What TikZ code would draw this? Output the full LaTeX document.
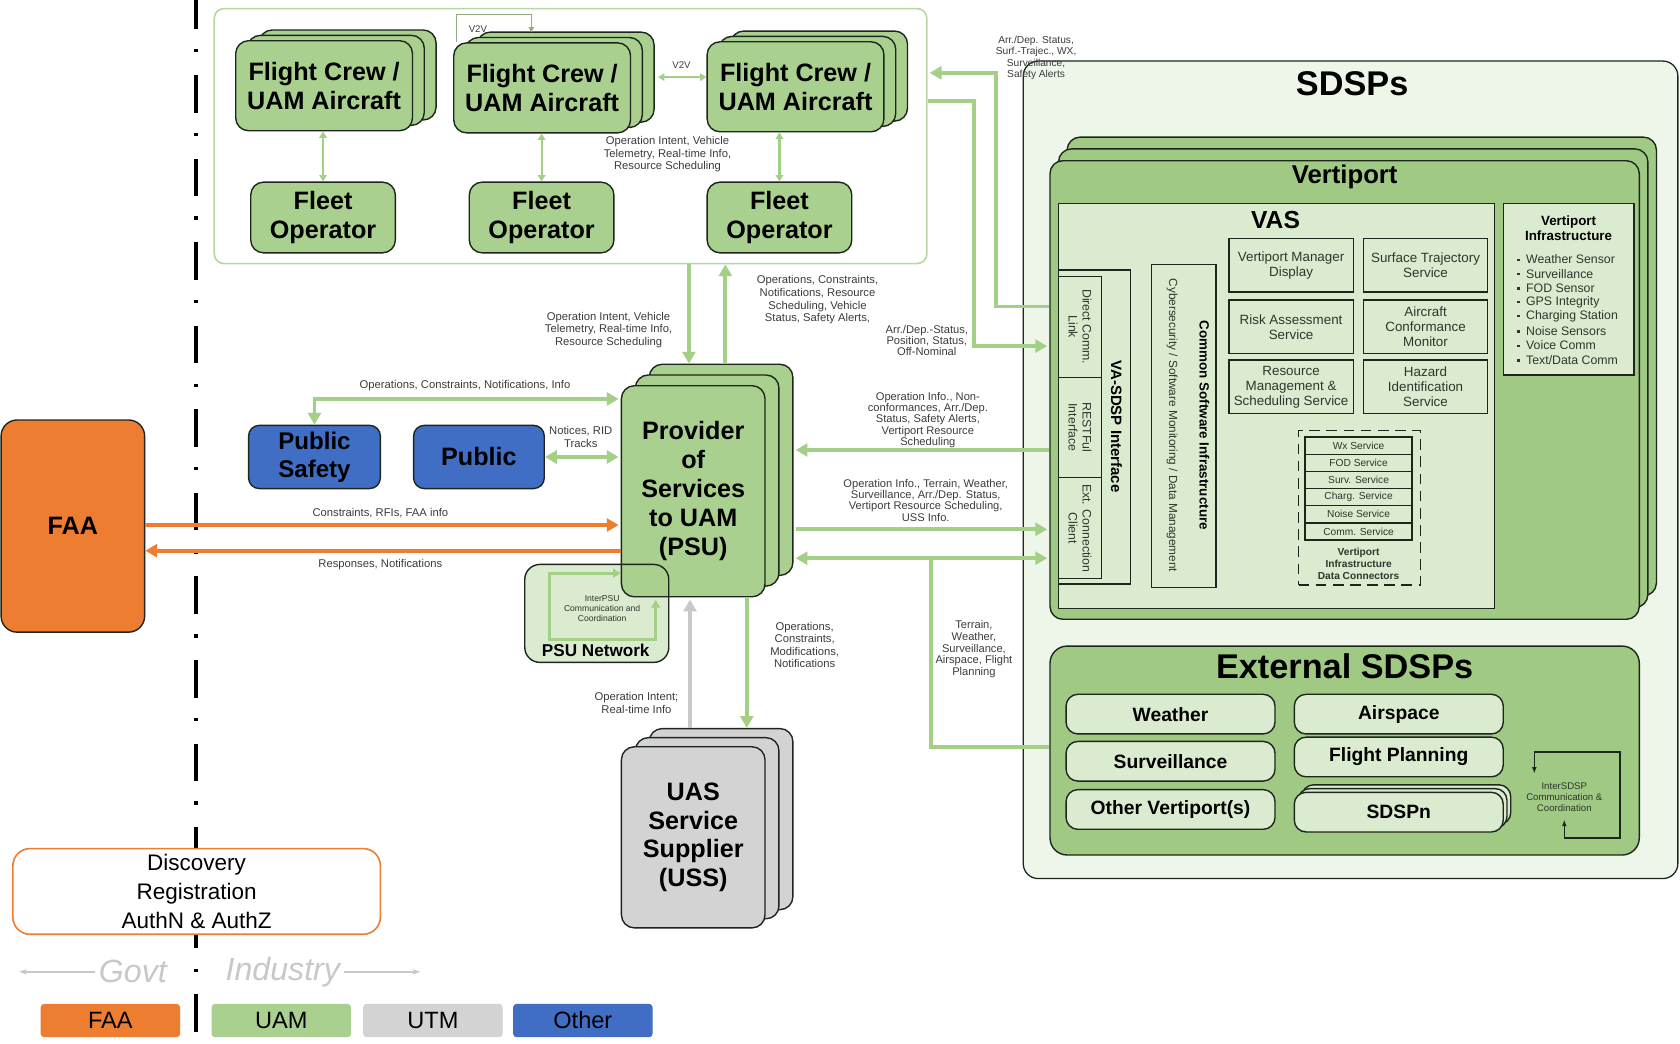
\documentclass[tikz,border=0pt]{standalone}
\usepackage{fontspec}
\setmainfont{Liberation Sans}
\usetikzlibrary{arrows.meta,calc,positioning,shadows}
\definecolor{uamcol}{RGB}{169,208,142}
\definecolor{vpcol}{RGB}{160,201,132}
\definecolor{vascol}{RGB}{219,235,207}
\definecolor{sdspcol}{RGB}{238,245,233}
\definecolor{grpcol}{RGB}{183,215,163}
\definecolor{flowcol}{RGB}{163,207,134}
\definecolor{faacol}{RGB}{237,125,49}
\definecolor{othcol}{RGB}{63,110,196}
\definecolor{utmcol}{RGB}{211,211,211}
\definecolor{graycol}{RGB}{200,200,200}
\definecolor{edgecol}{RGB}{28,38,28}
\definecolor{lblcol}{RGB}{60,60,60}
\definecolor{svctext}{RGB}{45,55,45}
\definecolor{govcol}{RGB}{200,200,200}

\tikzset{
  box/.style={draw=edgecol,line width=1.3pt,rounded corners=12pt,align=center,inner sep=0pt,
    font=\bfseries\fontsize{23.5}{27}\selectfont},
  panel/.style={draw=edgecol,line width=1.1pt,fill=vascol,inner sep=0pt,align=center},
  svc/.style={panel,minimum width=116,minimum height=50,text=svctext,font=\fontsize{12.5}{14}\selectfont},
  btn/.style={draw=edgecol,line width=1.3pt,rounded corners=11pt,fill=vascol,inner sep=0pt,
    minimum width=195,minimum height=37,font=\bfseries\fontsize{18}{21}\selectfont},
  lbl/.style={text=lblcol,align=center,inner sep=0pt,font=\fontsize{10.5}{11.8}\selectfont},
  tight/.style={font=\fontsize{10.4}{10.4}\selectfont},
  flow/.style={draw=flowcol,line width=3.5pt,-{Triangle[length=11pt,width=12pt]}},
  bothflow/.style={flow,{Triangle[length=11pt,width=12pt]}-{Triangle[length=11pt,width=12pt]}},
  thinflow/.style={draw=flowcol,line width=2pt,{Triangle[length=6pt,width=7pt]}-{Triangle[length=6pt,width=7pt]}},
  faaflow/.style={draw=faacol,line width=3.5pt,-{Triangle[length=11pt,width=12pt]}},
  rotlbl/.style={rotate=-90,align=center,inner sep=0pt,text=svctext},
}

\begin{document}
\begin{tikzpicture}[x=1pt,y=-1pt]
\useasboundingbox (0,0) rectangle (1568,974);
\fill[white] (0,0) rectangle (1568,974);
% govt / industry divider
\draw[line width=3pt,dash pattern=on 35pt off 19pt on 3pt off 21pt,dash phase=8pt] (183,0) -- (183,974);

% UAM operators group
\node[draw=grpcol,line width=1.5pt,rounded corners=9pt,fill=white,minimum width=665,minimum height=238] (uamgrp) at (532.5,127) {};
\foreach \n/\x/\y in {1/302.5/80,2/506/82,3/742.5/81}
  \node[box,fill=uamcol,minimum width=165,minimum height=84,
    double copy shadow={shadow xshift=11pt,shadow yshift=5pt}] (crew\n) at (\x,\y) {Flight Crew /\\UAM Aircraft};
\foreach \n/\x in {1/301.5,2/505.5,3/727.5}
  \node[box,fill=uamcol,minimum width=135,minimum height=66] (fleet\n) at (\x,203) {Fleet\\Operator};
\foreach \n in {1,2,3}
  \draw[thinflow] (fleet\n.north) -- (fleet\n.north |- crew\n.south);
\draw[draw=grpcol!80!black,line width=1pt,-{Triangle[length=5pt,width=5pt]}] ($(crew2.north west)+(3,0)$) -- ++(0,-26) -- ++(70,0) -- ++(0,17);
\node[lbl,font=\fontsize{9}{10}\selectfont] (v2vtop) at (446,27) {V2V};
\coordinate (v2vL) at ($(crew2.east)+(25,-10)$);
\draw[thinflow] (v2vL) -- (v2vL -| crew3.west);
\node[lbl,font=\fontsize{9}{10}\selectfont] (v2vmid) at (636,61) {V2V};
\node[lbl] (oplbl1) at (623,144) {Operation Intent, Vehicle\\Telemetry, Real-time Info,\\Resource Scheduling};

% SDSPs
\node[draw=edgecol,line width=1.2pt,rounded corners=14pt,fill=sdspcol,minimum width=611,minimum height=763] (sdsp) at (1260.5,438.5) {};
\node[font=\bfseries\fontsize{32}{36}\selectfont] (sdsptitle) at (1262,78) {SDSPs};
\node[box,fill=vpcol,minimum width=550,minimum height=428,
  double copy shadow={shadow xshift=8pt,shadow yshift=11pt}] (vp) at (1255,364) {};
\node[font=\bfseries\fontsize{24}{28}\selectfont] (vptitle) at (1255,165) {Vertiport};
\node[panel,minimum width=407,minimum height=378] (vas) at (1191.5,379) {};
\node[font=\bfseries\fontsize{23}{27}\selectfont] (vastitle) at (1190.5,205) {VAS};

% vertiport infrastructure
\node[panel,minimum width=122,minimum height=160] (vpi) at (1464,270) {};
\node[font=\bfseries\fontsize{12.5}{14}\selectfont,align=center] (vpititle) at (1464,213) {Vertiport\\Infrastructure};
\foreach \itm [count=\i from 0] in {Weather Sensor,Surveillance,FOD Sensor,GPS Integrity,Charging Station,Noise Sensors,Voice Comm,Text/Data Comm}
  \node[anchor=west,inner sep=0pt,text=svctext,font=\fontsize{11.5}{13}\selectfont] (vpiitem\i) at (1416,{242+13.4*\i}) {\rule[2.5pt]{2.2pt}{2.2pt}\hspace{6pt}\itm};

% VA-SDSP interface
\node[panel,minimum width=67,minimum height=293] (vasdsp) at (1021.5,398.5) {};
\node[panel,minimum width=40,minimum height=94] (dcl) at (1008,305) {};
\node[panel,minimum width=40,minimum height=94] (rest) at (1008,399) {};
\node[panel,minimum width=40,minimum height=94] (ext) at (1008,493) {};
\node[rotlbl,font=\fontsize{11.5}{13}\selectfont] (dcltxt) at (dcl) {Direct Comm.\\Link};
\node[rotlbl,font=\fontsize{11.5}{13}\selectfont] (resttxt) at (rest) {RESTFul\\Interface};
\node[rotlbl,font=\fontsize{11.5}{13}\selectfont] (exttxt) at (ext) {Ext. Connection\\Client};
\node[rotlbl,text=black,font=\bfseries\fontsize{14}{16}\selectfont] (vasdsptxt) at (1042,398) {VA-SDSP Interface};

% common software infrastructure
\node[panel,minimum width=60,minimum height=301] (csi) at (1105,397.5) {};
\node[rotlbl,text=black,font=\bfseries\fontsize{12.5}{14}\selectfont] (csitxt) at (1124,397) {Common Software Infrastructure};
\node[rotlbl,font=\fontsize{11}{13}\selectfont] (cybtxt) at (1094,397) {Cybersecurity / Software Monitoring / Data Management};

% VAS services
\node[svc] (vmd) at (1205,247.5) {Vertiport Manager\\Display};
\node[svc] (sts) at (1330.5,247.5) {Surface Trajectory\\Service};
\node[svc] (ras) at (1205,305) {Risk Assessment\\Service};
\node[svc] (acm) at (1330.5,305) {Aircraft\\Conformance\\Monitor};
\node[svc] (rms) at (1205,361) {Resource\\Management \&\\Scheduling Service};
\node[svc] (hid) at (1330.5,361) {Hazard\\Identification\\Service};

% data connectors
\node[draw=edgecol,line width=1.4pt,dash pattern=on 10pt off 6pt,minimum width=114,minimum height=144] (dconn) at (1269,474) {};
\foreach \s [count=\i from 0] in {Wx Service,FOD Service,Surv. Service,Charg. Service,Noise Service,Comm. Service}
  \node[panel,line width=1.4pt,minimum width=100,minimum height=16,text=svctext,font=\fontsize{9.5}{11}\selectfont] (conn\i) at (1268,{416+16*\i}) {\s};
\node[font=\bfseries\fontsize{9.5}{11}\selectfont,align=center,text=svctext] (dconntxt) at (1268,526) {Vertiport\\Infrastructure\\Data Connectors};

% external SDSPs
\node[box,fill=vpcol,rounded corners=16pt,minimum width=550,minimum height=195] (extsd) at (1255,700.5) {};
\node[font=\bfseries\fontsize{32}{36}\selectfont] (extsdtitle) at (1255,622) {External SDSPs};
\node[btn] (wx) at (1092.5,666.5) {Weather};
\node[btn] (air) at (1305.5,666.5) {Airspace};
\node[btn] (surv) at (1092.5,710.5) {Surveillance};
\node[btn] (fp) at (1305.5,706.5) {Flight Planning};
\node[btn] (othvp) at (1092.5,755.5) {Other Vertiport(s)};
\node[btn,double copy shadow={shadow xshift=3.5pt,shadow yshift=3.5pt}] (sdspn) at (1305.5,758) {SDSPn};
\coordinate (isd) at (1432,702);
\draw[edgecol,line width=1.3pt,{Latex[length=6pt]}-{Latex[length=6pt]}] ($(isd)+(0,20)$) -- (isd) -- ++(80,0) -- ++(0,80) -- ++(-52,0) -- ++(0,-17);
\node[align=center,text=svctext,font=\fontsize{9}{10.5}\selectfont] (isdtxt) at (1460,744) {InterSDSP\\Communication \&\\Coordination};

% FAA and public
\node[box,fill=faacol,rounded corners=15pt,minimum width=134,minimum height=198] (faa) at (68,491) {FAA};
\node[box,fill=othcol,rounded corners=10pt,minimum width=123,minimum height=59,font=\bfseries\fontsize{22.5}{26}\selectfont] (pubs) at (293.5,426.5) {Public\\Safety};
\node[box,fill=othcol,rounded corners=10pt,minimum width=122,minimum height=59] (pub) at (447,426.5) {Public};

% PSU and PSU network
\node[fill=vascol,rounded corners=14pt,minimum width=134,minimum height=91] (psunet) at (557,572.5) {};
\node[box,fill=uamcol,minimum width=134,minimum height=197,
  double copy shadow={shadow xshift=13pt,shadow yshift=10pt}] (psu) at (647,458.5) {Provider\\of\\Services\\to UAM\\(PSU)};
\draw[edgecol,line width=1.3pt,rounded corners=14pt] (psunet.south west) rectangle (psunet.north east);
\node[font=\bfseries\fontsize{16}{18}\selectfont] (psunettxt) at (556,607) {PSU Network};
\coordinate (pnA) at (513,535);
\draw[draw=flowcol,line width=2.5pt,{Triangle[length=7pt,width=8pt]}-{Triangle[length=7pt,width=8pt]}] (pnA -| psu.west) -- (pnA) |- ($(pnA)+(99,62)$) -- ++(0,-37);
\node[lbl,text=svctext,font=\fontsize{8}{9.5}\selectfont] (psunetlbl) at (562,568) {InterPSU\\Communication and\\Coordination};

% USS
\node[box,fill=utmcol,minimum width=134,minimum height=169,
  double copy shadow={shadow xshift=13pt,shadow yshift=8.5pt}] (uss) at (647,781.5) {UAS\\Service\\Supplier\\(USS)};

% operators <-> PSU
\coordinate (psuin) at ($(psu.north)+(-4,-20)$);
\draw[flow] (uamgrp.south -| psuin) -- (psuin);
\coordinate (psuout) at ($(psu.north)+(30,-20)$);
\draw[flow] (psuout) -- (psuout |- uamgrp.south);
\node[lbl] (oplbl2) at (568,308) {Operation Intent, Vehicle\\Telemetry, Real-time Info,\\Resource Scheduling};
\node[lbl] (opslbl) at (763,280) {Operations, Constraints,\\Notifications, Resource\\Scheduling, Vehicle\\Status, Safety Alerts,};

% public <-> PSU
\coordinate (psuA) at ($(psu.north west)+(-2,13)$);
\draw[bothflow] (pubs.north) |- (psuA);
\node[lbl] (pslbl) at (434,360) {Operations, Constraints, Notifications, Info};
\draw[bothflow] (pub.east) -- ($(pub.east -| psu.west)+(-2,0)$);
\node[lbl] (publbl) at (542,408) {Notices, RID\\Tracks};

% FAA <-> PSU
\draw[faaflow] ($(faa.east)+(0,-1)$) -- ($(faa.east -| psu.west)+(-2,-1)$);
\draw[faaflow] ($(faa.east -| psu.west)+(0,23)$) -- ($(faa.east)+(0,23)$);
\node[lbl] (faalbl1) at (355,479) {Constraints, RFIs, FAA info};
\node[lbl] (faalbl2) at (355,527) {Responses, Notifications};

% PSU <-> USS
\coordinate (ussin) at ($(uss.north)+(50,-17)$);
\draw[flow] (ussin |- psu.south) -- (ussin);
\coordinate (ussout) at ($(uss.north)+(-3,-17)$);
\draw[flow,draw=graycol] (ussout) -- ($(ussout |- psu.south)+(0,2)$);
\node[lbl] (usslbl1) at (751,602) {Operations,\\Constraints,\\Modifications,\\Notifications};
\node[lbl] (usslbl2) at (594,656) {Operation Intent;\\Real-time Info};

% vertiport <-> operators
\coordinate (dclout) at ($(vp.west |- dcl.west)+(0,-19)$);
\draw[flow] (dclout) -- ++(-50,0) |- ($(uamgrp.east)+(2,-59)$);
\draw[flow] ($(uamgrp.east)+(0,-33)$) -- ++(43,0) |- ($(vp.west)+(-2,-41)$);
\node[lbl,font=\fontsize{9.5}{10.5}\selectfont] (arrlbl1) at (967,54) {Arr./Dep. Status,\\Surf.-Trajec., WX,\\Surveillance,\\Safety Alerts};
\node[lbl,tight] (arrlbl2) at (865,318) {Arr./Dep.-Status,\\Position, Status,\\Off-Nominal};

% vertiport <-> PSU
\coordinate (restin) at ($(vp.west |- rest.west)+(0,21)$);
\draw[flow] (restin) -- ($(restin -| psu.east)+(28,0)$);
\node[lbl,tight] (restlbl) at (866,392) {Operation Info., Non-\\conformances, Arr./Dep.\\Status, Safety Alerts,\\Vertiport Resource\\Scheduling};
\coordinate (extin) at ($(vp.west |- ext.west)+(-2,1)$);
\draw[flow] ($(extin -| psu.east)+(28,0)$) -- (extin);
\node[lbl,tight] (extlbl) at (864,467) {Operation Info., Terrain, Weather,\\Surveillance, Arr./Dep. Status,\\Vertiport Resource Scheduling,\\USS Info.};
\coordinate (extin2) at ($(extin)+(0,27)$);
\draw[bothflow] ($(extin2 -| psu.east)+(28,0)$) -- (extin2);
\draw[draw=flowcol,line width=3.5pt] ($(extin2 -| psu.east)+(154,0)$) |- ($(extsd.west)+(0,-3)$);
\node[lbl,font=\fontsize{10.4}{11}\selectfont] (trnlbl) at (909,606) {Terrain,\\Weather,\\Surveillance,\\Airspace, Flight\\Planning};

% discovery
\node[draw=faacol,line width=1.5pt,rounded corners=16pt,fill=white,minimum width=343,minimum height=80,
  align=center,font=\fontsize{21}{27}\selectfont] (disc) at (183.5,832) {Discovery\\Registration\\AuthN \& AuthZ};

% govt / industry and legend
\node[text=govcol,font=\itshape\fontsize{30}{32}\selectfont] (govt) at (124,907) {Govt};
\node[text=govcol,font=\itshape\fontsize{30}{32}\selectfont] (industry) at (264,907) {Industry};
\coordinate (govend) at (18,907);
\coordinate (indend) at (392,907);
\draw[govcol,line width=1.5pt,-{Stealth[length=7pt]}] (govt.west) -- (govend);
\draw[govcol,line width=1.5pt,-{Stealth[length=7pt]}] (industry.east) -- (indend);
\foreach \n/\x/\c/\t in {faaL/103/faacol/FAA,uamL/262.5/uamcol/UAM,utmL/404/utmcol/UTM,othL/544/othcol/Other}
  \node[fill=\c,rounded corners=3pt,minimum width=130,minimum height=31,font=\fontsize{22}{24}\selectfont] (\n) at (\x,952.5) {\t};
\end{tikzpicture}
\end{document}
